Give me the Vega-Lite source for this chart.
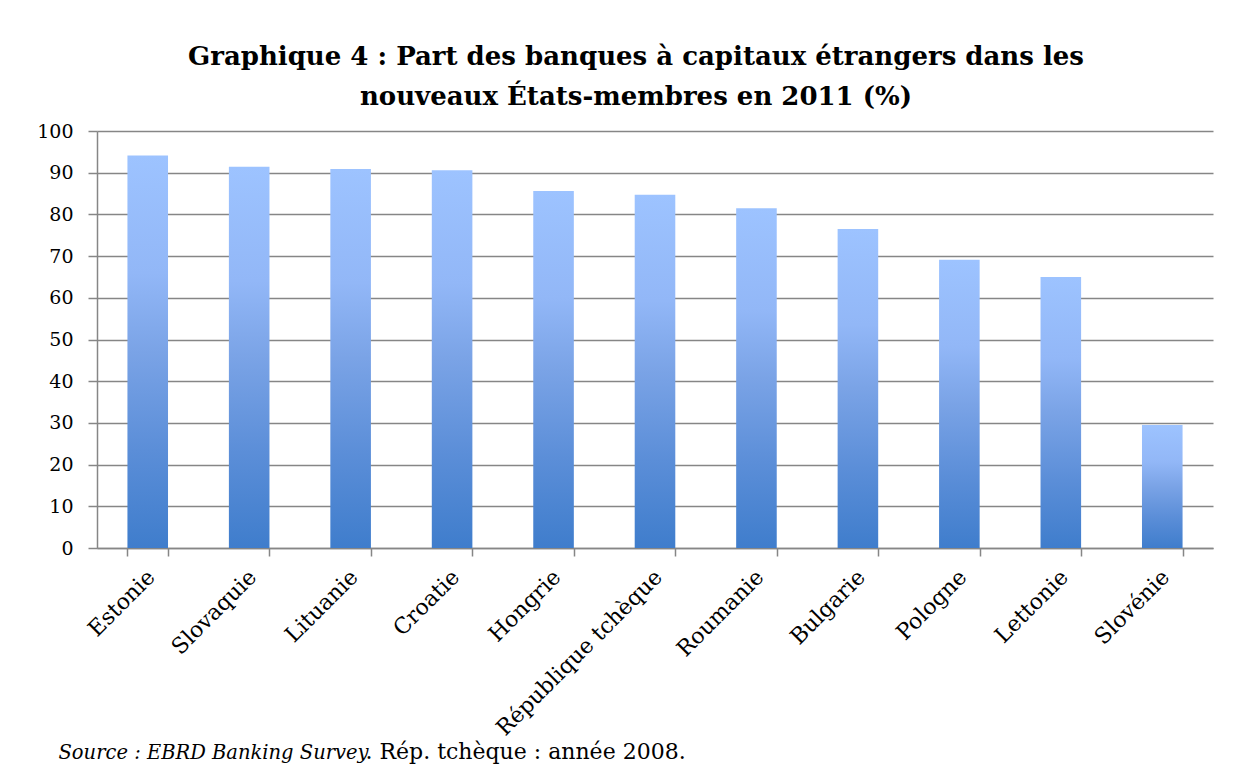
{
  "$schema": "https://vega.github.io/schema/vega-lite/v6.json",
  "autosize": "none",
  "width": 1116,
  "height": 417,
  "padding": {"left": 97, "top": 131, "right": 34, "bottom": 226},
  "background": "white",
  "title": {
    "text": ["Graphique 4 : Part des banques à capitaux étrangers dans les", "nouveaux États-membres en 2011 (%)"],
    "font": "DejaVu Serif",
    "fontSize": 26,
    "fontWeight": "bold",
    "color": "#000000",
    "lineHeight": 40,
    "anchor": "middle",
    "dx": -19,
    "offset": 12
  },
  "data": {
    "values": [
      {"pays": "Estonie", "part": 94.1},
      {"pays": "Slovaquie", "part": 91.4},
      {"pays": "Lituanie", "part": 90.9},
      {"pays": "Croatie", "part": 90.6},
      {"pays": "Hongrie", "part": 85.6},
      {"pays": "République tchèque", "part": 84.7},
      {"pays": "Roumanie", "part": 81.5},
      {"pays": "Bulgarie", "part": 76.5},
      {"pays": "Pologne", "part": 69.1},
      {"pays": "Lettonie", "part": 65.0},
      {"pays": "Slovénie", "part": 29.5}
    ]
  },
  "mark": {
    "type": "bar",
    "color": {
      "gradient": "linear",
      "x1": 0, "y1": 0, "x2": 0, "y2": 1,
      "stops": [
        {"offset": 0, "color": "#9DC3FF"},
        {"offset": 0.3, "color": "#92B7F7"},
        {"offset": 0.5, "color": "#7AA3E6"},
        {"offset": 0.75, "color": "#5B8ED8"},
        {"offset": 1, "color": "#3F7DCC"}
      ]
    }
  },
  "encoding": {
    "x": {
      "field": "pays",
      "type": "nominal",
      "sort": null,
      "scale": {"paddingInner": 0.6, "paddingOuter": 0.3},
      "axis": {
        "title": "Source : EBRD Banking Survey",
        "titleFont": "DejaVu Serif",
        "titleFontStyle": "italic",
        "titleFontWeight": "normal",
        "titleFontSize": 19.5,
        "titleColor": "#000000",
        "titleAnchor": "start",
        "titleAlign": "left",
        "titleBaseline": "alphabetic",
        "titleX": -39,
        "titleY": 210,
        "labelAngle": -45,
        "labelFont": "DejaVu Serif",
        "labelFontSize": 22,
        "labelColor": "#000000",
        "labelPadding": 10,
        "labelOffset": -4,
        "labelLimit": 0,
        "tickBand": "extent",
        "tickSize": 8,
        "tickColor": "#868686",
        "tickWidth": 1.5,
        "domainColor": "#868686",
        "domainWidth": 1.5,
        "grid": false
      }
    },
    "y": {
      "field": "part",
      "type": "quantitative",
      "scale": {"domain": [0, 100], "nice": false},
      "axis": {
        "title": ". Rép. tchèque : année 2008.",
        "titleFont": "DejaVu Serif",
        "titleFontWeight": "normal",
        "titleFontSize": 22,
        "titleColor": "#000000",
        "titleAngle": 0,
        "titleAlign": "left",
        "titleBaseline": "alphabetic",
        "titleX": 268,
        "titleY": 627,
        "values": [0, 10, 20, 30, 40, 50, 60, 70, 80, 90, 100],
        "labelFont": "DejaVu Serif",
        "labelFontSize": 19,
        "labelColor": "#000000",
        "labelPadding": 15,
        "tickSize": 9,
        "tickColor": "#868686",
        "tickWidth": 1.5,
        "domainColor": "#868686",
        "domainWidth": 1.5,
        "grid": true,
        "gridColor": "#868686",
        "gridWidth": 1.5
      }
    }
  },
  "config": {
    "view": {"stroke": null}
  }
}
